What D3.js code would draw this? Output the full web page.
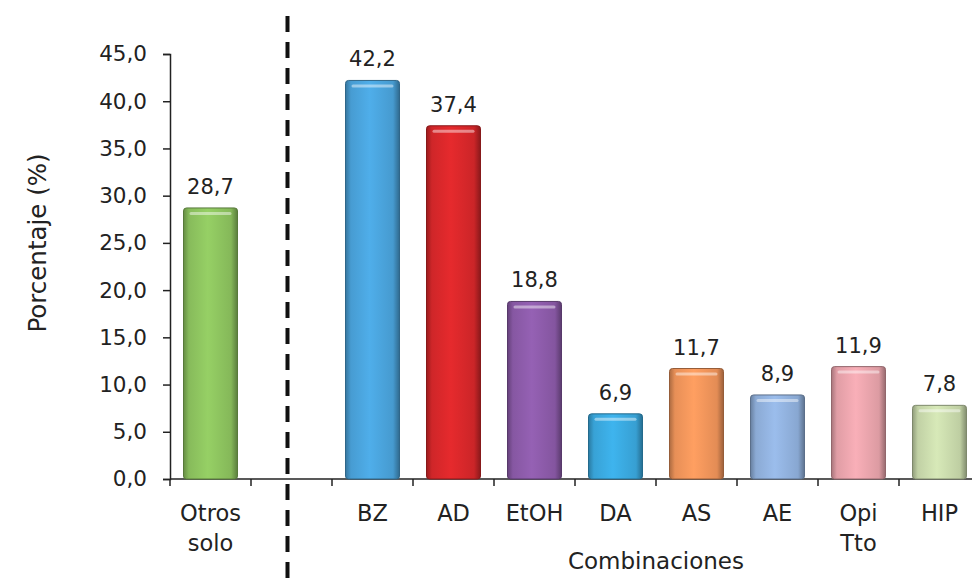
<!DOCTYPE html>
<html>
<head>
<meta charset="utf-8">
<script src="https://cdn.jsdelivr.net/npm/d3@7"></script>
<style>
  body { margin: 0; background: #fff; }
  text { font-family: "DejaVu Sans", sans-serif; fill: #222; }
</style>
</head>
<body>
<script>
'use strict';

// categories ("" is the empty slot that holds the dashed separator)
const categories = ["Otros solo", "", "BZ", "AD", "EtOH", "DA", "AS", "AE", "Opi Tto", "HIP"];
const labelLines = [["Otros", "solo"], [], ["BZ"], ["AD"], ["EtOH"], ["DA"], ["AS"], ["AE"], ["Opi", "Tto"], ["HIP"]];
const values = [28.7, null, 42.2, 37.4, 18.8, 6.9, 11.7, 8.9, 11.9, 7.8];
const barColors = ["#8cc25e", null, "#4aa2da", "#d6272a", "#8b5aa8", "#3aa8de", "#ef945a", "#90b0dc", "#e8a3ab", "#c8d9ab"];
const yTicks = [0, 5, 10, 15, 20, 25, 30, 35, 40, 45];

(function() {
  const width = 972, height = 581;
  const svg = d3.select('body').append('svg')
    .attr('width', width)
    .attr('height', height);

  const locale = d3.formatLocale({ decimal: ",", thousands: ".", grouping: [3], currency: ["", "€"] });
  const fmt = locale.format(".1f");

  // scales
  const x = d3.scaleBand()
    .domain(categories)
    .range([170, 980])
    .paddingInner(1 / 3)
    .paddingOuter(1 / 6);

  const y = d3.scaleLinear()
    .domain([0, 45])
    .range([479, 54]);

  // gradients for the bevelled bars
  const defs = svg.append('defs');
  barColors.forEach((c, i) => {
    if (!c) return;
    const base = d3.color(c);
    const g = defs.append('linearGradient')
      .attr('id', 'grad' + i)
      .attr('x1', '0%').attr('x2', '100%')
      .attr('y1', '0%').attr('y2', '0%');
    g.append('stop').attr('offset', '0%').attr('stop-color', base.darker(0.9));
    g.append('stop').attr('offset', '10%').attr('stop-color', base.darker(0.1));
    g.append('stop').attr('offset', '45%').attr('stop-color', base.brighter(0.2));
    g.append('stop').attr('offset', '88%').attr('stop-color', base.darker(0.15));
    g.append('stop').attr('offset', '100%').attr('stop-color', base.darker(1.2));
  });

  // y axis
  const yAxis = d3.axisLeft(y)
    .tickValues(yTicks)
    .tickSize(7)
    .tickPadding(16)
    .tickFormat(fmt);
  const gy = svg.append('g')
    .attr('transform', 'translate(170,0)')
    .call(yAxis);
  gy.select('.domain').attr('stroke', '#222').attr('stroke-width', 1.5);
  gy.selectAll('.tick line').attr('stroke', '#222').attr('stroke-width', 1.5);
  gy.selectAll('.tick text')
    .attr('font-size', 21.5)
    .attr('font-family', '"DejaVu Sans", sans-serif')
    .attr('fill', '#222');

  // x axis line and boundary ticks
  svg.append('line')
    .attr('x1', 170).attr('x2', width)
    .attr('y1', y(0)).attr('y2', y(0))
    .attr('stroke', '#222').attr('stroke-width', 1.5);

  const gap = (x.step() - x.bandwidth()) / 2;
  const bounds = categories.map(c => x(c) - gap).concat([x(categories[categories.length - 1]) + x.bandwidth() + gap]);
  svg.selectAll('.xtick')
    .data(bounds)
    .enter()
    .append('line')
      .attr('class', 'xtick')
      .attr('x1', d => d).attr('x2', d => d)
      .attr('y1', y(0)).attr('y2', y(0) + 7)
      .attr('stroke', '#222').attr('stroke-width', 1.5);

  // bars
  const rows = categories.map((c, i) => ({ cat: c, v: values[i], i: i, lines: labelLines[i] }));
  const withData = rows.filter(d => d.v !== null);

  const bars = svg.selectAll('.bar')
    .data(withData)
    .enter()
    .append('g')
      .attr('class', 'bar');

  bars.append('rect')
    .attr('x', d => x(d.cat))
    .attr('y', d => y(d.v))
    .attr('width', x.bandwidth())
    .attr('height', d => y(0) - y(d.v))
    .attr('rx', 3)
    .attr('fill', d => 'url(#grad' + d.i + ')')
    .attr('stroke', d => d3.color(barColors[d.i]).darker(1.3))
    .attr('stroke-width', 1);

  // top highlight strip
  bars.append('rect')
    .attr('x', d => x(d.cat) + 6)
    .attr('y', d => y(d.v) + 4)
    .attr('width', x.bandwidth() - 12)
    .attr('height', 3)
    .attr('rx', 1.5)
    .attr('fill', '#fff')
    .attr('opacity', 0.45);

  // value labels
  bars.append('text')
    .attr('x', d => x(d.cat) + x.bandwidth() / 2)
    .attr('y', d => y(d.v) - 14)
    .attr('text-anchor', 'middle')
    .attr('font-size', 21)
    .text(d => fmt(d.v));

  // category labels
  const catLabels = svg.selectAll('.cat')
    .data(rows)
    .enter()
    .append('text')
      .attr('class', 'cat')
      .attr('text-anchor', 'middle')
      .attr('font-size', 22.5)
      .attr('x', d => x(d.cat) + x.bandwidth() / 2)
      .attr('y', 521);
  catLabels.selectAll('tspan')
    .data(d => d.lines.map(l => ({ l: l, cx: x(d.cat) + x.bandwidth() / 2 })))
    .enter()
    .append('tspan')
      .attr('x', d => d.cx)
      .attr('dy', (d, k) => k === 0 ? 0 : 30)
      .text(d => d.l);

  // dashed separator in the empty slot
  const sepX = x("") + x.bandwidth() / 2 - 4;
  svg.append('line')
    .attr('x1', sepX).attr('x2', sepX)
    .attr('y1', 16).attr('y2', height)
    .attr('stroke', '#111')
    .attr('stroke-width', 4)
    .attr('stroke-dasharray', '16,10');

  // axis titles
  const combStart = x("BZ") - gap;
  const combEnd = x("HIP") + x.bandwidth() + gap;
  svg.append('text')
    .attr('x', (combStart + combEnd) / 2)
    .attr('y', 569)
    .attr('text-anchor', 'middle')
    .attr('font-size', 23)
    .text('Combinaciones');

  svg.append('text')
    .attr('transform', 'translate(46,243) rotate(-90)')
    .attr('text-anchor', 'middle')
    .attr('font-size', 24.5)
    .text('Porcentaje (%)');
})();
</script>
</body>
</html>
